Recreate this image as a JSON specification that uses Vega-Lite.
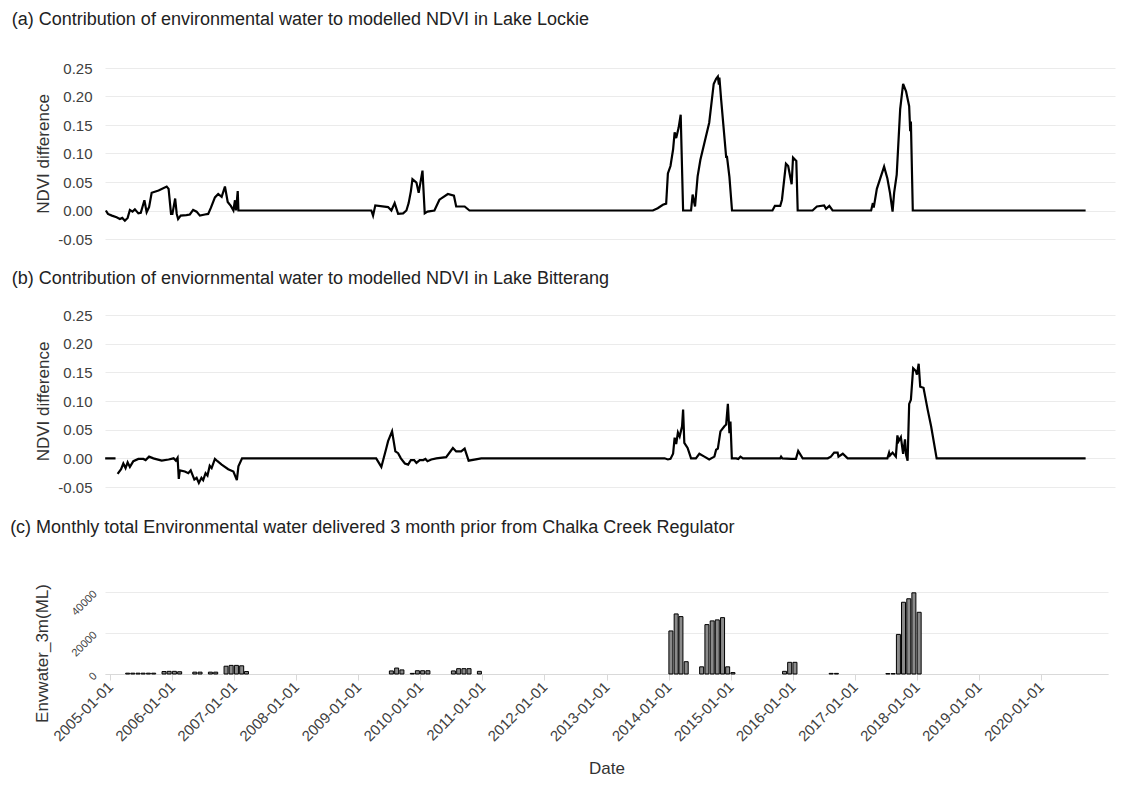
{
  "$schema": "https://vega.github.io/schema/vega-lite/v6.json",
  "background": "white",
  "padding": {"left": 10, "top": 11, "right": 5, "bottom": 5},
  "config": {
    "font": "Liberation Sans",
    "view": {"stroke": null},
    "title": {"anchor": "start", "frame": "bounds", "fontSize": 18, "fontWeight": "normal", "color": "#222222", "dx": -23, "baseline": "alphabetic"},
    "axis": {"labelColor": "#404040", "titleColor": "#333333", "titleFontWeight": "normal", "gridColor": "#ebebeb", "domain": false, "ticks": false, "labelFont": "Liberation Sans", "titleFont": "Liberation Sans"}
  },
  "spacing": 23,
  "datasets": {
    "lockie": [
      {"date": "2005-01-06", "ndvi": 0.000},
      {"date": "2005-01-18", "ndvi": -0.006},
      {"date": "2005-02-10", "ndvi": -0.009},
      {"date": "2005-03-09", "ndvi": -0.012},
      {"date": "2005-03-28", "ndvi": -0.015},
      {"date": "2005-04-11", "ndvi": -0.013},
      {"date": "2005-04-26", "ndvi": -0.018},
      {"date": "2005-05-12", "ndvi": -0.013},
      {"date": "2005-05-25", "ndvi": 0.001},
      {"date": "2005-06-09", "ndvi": -0.002},
      {"date": "2005-06-23", "ndvi": 0.002},
      {"date": "2005-07-13", "ndvi": -0.005},
      {"date": "2005-07-27", "ndvi": -0.004},
      {"date": "2005-08-17", "ndvi": 0.018},
      {"date": "2005-08-30", "ndvi": -0.003},
      {"date": "2005-09-13", "ndvi": 0.006},
      {"date": "2005-09-28", "ndvi": 0.031},
      {"date": "2005-11-07", "ndvi": 0.035},
      {"date": "2005-12-24", "ndvi": 0.042},
      {"date": "2006-01-04", "ndvi": 0.038},
      {"date": "2006-01-18", "ndvi": -0.006},
      {"date": "2006-01-26", "ndvi": -0.006},
      {"date": "2006-02-11", "ndvi": 0.021},
      {"date": "2006-02-20", "ndvi": -0.006},
      {"date": "2006-02-28", "ndvi": -0.015},
      {"date": "2006-03-15", "ndvi": -0.009},
      {"date": "2006-04-17", "ndvi": -0.008},
      {"date": "2006-05-07", "ndvi": -0.007},
      {"date": "2006-05-26", "ndvi": 0.001},
      {"date": "2006-06-15", "ndvi": -0.002},
      {"date": "2006-07-04", "ndvi": -0.009},
      {"date": "2006-08-02", "ndvi": -0.007},
      {"date": "2006-08-21", "ndvi": -0.006},
      {"date": "2006-09-06", "ndvi": 0.005},
      {"date": "2006-09-29", "ndvi": 0.023},
      {"date": "2006-10-18", "ndvi": 0.029},
      {"date": "2006-11-07", "ndvi": 0.024},
      {"date": "2006-11-26", "ndvi": 0.042},
      {"date": "2006-12-12", "ndvi": 0.015},
      {"date": "2006-12-30", "ndvi": 0.008},
      {"date": "2007-01-14", "ndvi": 0.000},
      {"date": "2007-01-23", "ndvi": 0.018},
      {"date": "2007-01-29", "ndvi": 0.000},
      {"date": "2007-02-08", "ndvi": 0.034},
      {"date": "2007-02-12", "ndvi": 0.000},
      {"date": "2009-03-22", "ndvi": 0.000},
      {"date": "2009-04-01", "ndvi": -0.009},
      {"date": "2009-04-14", "ndvi": 0.009},
      {"date": "2009-06-27", "ndvi": 0.006},
      {"date": "2009-07-16", "ndvi": 0.000},
      {"date": "2009-08-04", "ndvi": 0.013},
      {"date": "2009-08-24", "ndvi": -0.006},
      {"date": "2009-09-22", "ndvi": -0.005},
      {"date": "2009-10-11", "ndvi": 0.000},
      {"date": "2009-10-24", "ndvi": 0.013},
      {"date": "2009-11-06", "ndvi": 0.034},
      {"date": "2009-11-15", "ndvi": 0.055},
      {"date": "2009-12-08", "ndvi": 0.049},
      {"date": "2009-12-21", "ndvi": 0.031},
      {"date": "2010-01-12", "ndvi": 0.070},
      {"date": "2010-01-25", "ndvi": -0.005},
      {"date": "2010-02-10", "ndvi": -0.002},
      {"date": "2010-03-22", "ndvi": 0.000},
      {"date": "2010-04-20", "ndvi": 0.019},
      {"date": "2010-06-08", "ndvi": 0.029},
      {"date": "2010-07-13", "ndvi": 0.026},
      {"date": "2010-07-26", "ndvi": 0.007},
      {"date": "2010-09-13", "ndvi": 0.007},
      {"date": "2010-10-11", "ndvi": 0.000},
      {"date": "2013-09-06", "ndvi": 0.000},
      {"date": "2013-10-04", "ndvi": 0.004},
      {"date": "2013-11-03", "ndvi": 0.010},
      {"date": "2013-11-22", "ndvi": 0.012},
      {"date": "2013-12-02", "ndvi": 0.065},
      {"date": "2013-12-17", "ndvi": 0.078},
      {"date": "2014-01-01", "ndvi": 0.107},
      {"date": "2014-01-10", "ndvi": 0.137},
      {"date": "2014-01-19", "ndvi": 0.127},
      {"date": "2014-02-02", "ndvi": 0.145},
      {"date": "2014-02-14", "ndvi": 0.168},
      {"date": "2014-02-28", "ndvi": 0.000},
      {"date": "2014-04-15", "ndvi": 0.000},
      {"date": "2014-04-24", "ndvi": 0.028},
      {"date": "2014-05-08", "ndvi": 0.007},
      {"date": "2014-05-23", "ndvi": 0.060},
      {"date": "2014-06-08", "ndvi": 0.089},
      {"date": "2014-07-29", "ndvi": 0.154},
      {"date": "2014-08-24", "ndvi": 0.222},
      {"date": "2014-09-07", "ndvi": 0.231},
      {"date": "2014-09-17", "ndvi": 0.235},
      {"date": "2014-09-23", "ndvi": 0.221},
      {"date": "2014-09-26", "ndvi": 0.233},
      {"date": "2014-10-06", "ndvi": 0.195},
      {"date": "2014-11-04", "ndvi": 0.094},
      {"date": "2014-11-09", "ndvi": 0.094},
      {"date": "2014-11-23", "ndvi": 0.059},
      {"date": "2014-12-08", "ndvi": 0.000},
      {"date": "2015-07-30", "ndvi": 0.000},
      {"date": "2015-08-13", "ndvi": 0.008},
      {"date": "2015-09-13", "ndvi": 0.008},
      {"date": "2015-09-23", "ndvi": 0.019},
      {"date": "2015-10-16", "ndvi": 0.082},
      {"date": "2015-10-29", "ndvi": 0.078},
      {"date": "2015-11-18", "ndvi": 0.046},
      {"date": "2015-11-26", "ndvi": 0.093},
      {"date": "2015-12-15", "ndvi": 0.087},
      {"date": "2015-12-23", "ndvi": 0.000},
      {"date": "2016-03-18", "ndvi": 0.000},
      {"date": "2016-04-12", "ndvi": 0.007},
      {"date": "2016-05-24", "ndvi": 0.009},
      {"date": "2016-06-04", "ndvi": 0.003},
      {"date": "2016-06-23", "ndvi": 0.008},
      {"date": "2016-07-12", "ndvi": 0.000},
      {"date": "2017-02-20", "ndvi": 0.000},
      {"date": "2017-03-02", "ndvi": 0.013},
      {"date": "2017-03-07", "ndvi": 0.005},
      {"date": "2017-03-25", "ndvi": 0.038},
      {"date": "2017-05-06", "ndvi": 0.077},
      {"date": "2017-05-25", "ndvi": 0.056},
      {"date": "2017-06-09", "ndvi": 0.031},
      {"date": "2017-06-24", "ndvi": -0.002},
      {"date": "2017-07-03", "ndvi": 0.031},
      {"date": "2017-07-18", "ndvi": 0.063},
      {"date": "2017-08-07", "ndvi": 0.178},
      {"date": "2017-08-24", "ndvi": 0.222},
      {"date": "2017-09-10", "ndvi": 0.209},
      {"date": "2017-09-28", "ndvi": 0.183},
      {"date": "2017-10-04", "ndvi": 0.139},
      {"date": "2017-10-08", "ndvi": 0.156},
      {"date": "2017-10-19", "ndvi": 0.000},
      {"date": "2020-07-15", "ndvi": 0.000}
    ],
    "bitterang": [
      {"date": "2005-01-02", "ndvi": 0.000},
      {"date": "2005-03-03", "ndvi": 0.000},
      {"date": "2005-03-09", "ndvi": null},
      {"date": "2005-03-15", "ndvi": -0.027},
      {"date": "2005-04-04", "ndvi": -0.019},
      {"date": "2005-04-17", "ndvi": -0.009},
      {"date": "2005-04-30", "ndvi": -0.017},
      {"date": "2005-05-12", "ndvi": -0.007},
      {"date": "2005-05-25", "ndvi": -0.015},
      {"date": "2005-06-14", "ndvi": -0.005},
      {"date": "2005-07-13", "ndvi": -0.001},
      {"date": "2005-08-11", "ndvi": -0.001},
      {"date": "2005-08-24", "ndvi": -0.003},
      {"date": "2005-09-13", "ndvi": 0.003},
      {"date": "2005-10-08", "ndvi": 0.000},
      {"date": "2005-11-25", "ndvi": -0.004},
      {"date": "2006-01-04", "ndvi": -0.002},
      {"date": "2006-02-02", "ndvi": 0.000},
      {"date": "2006-02-15", "ndvi": -0.004},
      {"date": "2006-02-25", "ndvi": 0.001},
      {"date": "2006-03-04", "ndvi": -0.036},
      {"date": "2006-03-10", "ndvi": -0.021},
      {"date": "2006-04-08", "ndvi": -0.023},
      {"date": "2006-04-28", "ndvi": -0.026},
      {"date": "2006-05-12", "ndvi": -0.021},
      {"date": "2006-06-02", "ndvi": -0.037},
      {"date": "2006-06-15", "ndvi": -0.034},
      {"date": "2006-06-28", "ndvi": -0.043},
      {"date": "2006-07-13", "ndvi": -0.034},
      {"date": "2006-07-23", "ndvi": -0.038},
      {"date": "2006-08-06", "ndvi": -0.026},
      {"date": "2006-08-17", "ndvi": -0.030},
      {"date": "2006-08-30", "ndvi": -0.013},
      {"date": "2006-09-10", "ndvi": -0.017},
      {"date": "2006-09-29", "ndvi": -0.001},
      {"date": "2006-10-14", "ndvi": -0.005},
      {"date": "2006-11-07", "ndvi": -0.011},
      {"date": "2006-12-15", "ndvi": -0.019},
      {"date": "2007-01-14", "ndvi": -0.023},
      {"date": "2007-02-03", "ndvi": -0.038},
      {"date": "2007-02-12", "ndvi": -0.014},
      {"date": "2007-03-05", "ndvi": 0.000},
      {"date": "2009-04-19", "ndvi": 0.000},
      {"date": "2009-05-19", "ndvi": -0.015},
      {"date": "2009-06-17", "ndvi": 0.018},
      {"date": "2009-06-27", "ndvi": 0.030},
      {"date": "2009-07-20", "ndvi": 0.047},
      {"date": "2009-08-08", "ndvi": 0.012},
      {"date": "2009-08-24", "ndvi": 0.009},
      {"date": "2009-09-09", "ndvi": 0.000},
      {"date": "2009-10-02", "ndvi": -0.009},
      {"date": "2009-10-21", "ndvi": -0.011},
      {"date": "2009-11-06", "ndvi": -0.003},
      {"date": "2009-11-25", "ndvi": -0.003},
      {"date": "2009-12-08", "ndvi": -0.008},
      {"date": "2009-12-27", "ndvi": -0.003},
      {"date": "2010-01-17", "ndvi": -0.003},
      {"date": "2010-01-29", "ndvi": -0.001},
      {"date": "2010-02-10", "ndvi": -0.005},
      {"date": "2010-03-04", "ndvi": -0.002},
      {"date": "2010-04-02", "ndvi": 0.000},
      {"date": "2010-05-29", "ndvi": 0.002},
      {"date": "2010-07-07", "ndvi": 0.018},
      {"date": "2010-07-26", "ndvi": 0.012},
      {"date": "2010-08-24", "ndvi": 0.012},
      {"date": "2010-09-13", "ndvi": 0.017},
      {"date": "2010-10-06", "ndvi": -0.004},
      {"date": "2010-12-18", "ndvi": 0.000},
      {"date": "2013-11-13", "ndvi": 0.000},
      {"date": "2013-12-02", "ndvi": -0.002},
      {"date": "2013-12-17", "ndvi": -0.001},
      {"date": "2014-01-01", "ndvi": 0.008},
      {"date": "2014-01-10", "ndvi": 0.036},
      {"date": "2014-01-19", "ndvi": 0.025},
      {"date": "2014-01-29", "ndvi": 0.045},
      {"date": "2014-02-08", "ndvi": 0.038},
      {"date": "2014-02-22", "ndvi": 0.056},
      {"date": "2014-02-28", "ndvi": 0.085},
      {"date": "2014-03-07", "ndvi": 0.027},
      {"date": "2014-03-26", "ndvi": 0.018},
      {"date": "2014-04-15", "ndvi": 0.000},
      {"date": "2014-05-13", "ndvi": 0.000},
      {"date": "2014-06-02", "ndvi": 0.008},
      {"date": "2014-07-01", "ndvi": 0.003},
      {"date": "2014-07-29", "ndvi": -0.002},
      {"date": "2014-08-28", "ndvi": 0.003},
      {"date": "2014-09-07", "ndvi": 0.015},
      {"date": "2014-09-17", "ndvi": 0.017},
      {"date": "2014-10-02", "ndvi": 0.047},
      {"date": "2014-10-25", "ndvi": 0.056},
      {"date": "2014-11-04", "ndvi": 0.059},
      {"date": "2014-11-14", "ndvi": 0.095},
      {"date": "2014-11-23", "ndvi": 0.044},
      {"date": "2014-11-29", "ndvi": 0.064},
      {"date": "2014-12-07", "ndvi": 0.000},
      {"date": "2015-01-01", "ndvi": 0.000},
      {"date": "2015-01-13", "ndvi": -0.001},
      {"date": "2015-01-26", "ndvi": 0.003},
      {"date": "2015-02-09", "ndvi": 0.000},
      {"date": "2015-09-13", "ndvi": 0.000},
      {"date": "2015-09-18", "ndvi": 0.003},
      {"date": "2015-09-25", "ndvi": 0.000},
      {"date": "2015-11-18", "ndvi": -0.001},
      {"date": "2015-12-13", "ndvi": -0.001},
      {"date": "2015-12-26", "ndvi": 0.013},
      {"date": "2016-01-21", "ndvi": 0.000},
      {"date": "2016-06-14", "ndvi": 0.000},
      {"date": "2016-07-02", "ndvi": 0.003},
      {"date": "2016-07-21", "ndvi": 0.010},
      {"date": "2016-08-10", "ndvi": 0.010},
      {"date": "2016-08-15", "ndvi": 0.003},
      {"date": "2016-09-09", "ndvi": 0.008},
      {"date": "2016-10-07", "ndvi": 0.000},
      {"date": "2017-05-25", "ndvi": 0.000},
      {"date": "2017-06-04", "ndvi": 0.010},
      {"date": "2017-06-09", "ndvi": 0.005},
      {"date": "2017-06-24", "ndvi": 0.010},
      {"date": "2017-07-13", "ndvi": 0.003},
      {"date": "2017-07-22", "ndvi": 0.040},
      {"date": "2017-07-29", "ndvi": 0.030},
      {"date": "2017-08-11", "ndvi": 0.037},
      {"date": "2017-08-24", "ndvi": 0.008},
      {"date": "2017-09-04", "ndvi": 0.033},
      {"date": "2017-09-10", "ndvi": 0.006},
      {"date": "2017-09-19", "ndvi": -0.004},
      {"date": "2017-09-28", "ndvi": 0.095},
      {"date": "2017-10-08", "ndvi": 0.102},
      {"date": "2017-10-21", "ndvi": 0.157},
      {"date": "2017-11-06", "ndvi": 0.152},
      {"date": "2017-11-12", "ndvi": 0.146},
      {"date": "2017-11-22", "ndvi": 0.165},
      {"date": "2017-12-01", "ndvi": 0.125},
      {"date": "2017-12-20", "ndvi": 0.123},
      {"date": "2018-01-13", "ndvi": 0.085},
      {"date": "2018-02-02", "ndvi": 0.056},
      {"date": "2018-03-06", "ndvi": 0.000},
      {"date": "2020-07-15", "ndvi": 0.000}
    ],
    "water": [
      {"month": "2005-04-15", "ml": 400},
      {"month": "2005-05-15", "ml": 400},
      {"month": "2005-06-15", "ml": 400},
      {"month": "2005-07-15", "ml": 400},
      {"month": "2005-08-15", "ml": 400},
      {"month": "2005-09-15", "ml": 400},
      {"month": "2005-11-15", "ml": 1200},
      {"month": "2005-12-15", "ml": 1300},
      {"month": "2006-01-15", "ml": 1300},
      {"month": "2006-02-15", "ml": 1100},
      {"month": "2006-05-15", "ml": 900},
      {"month": "2006-06-15", "ml": 900},
      {"month": "2006-08-15", "ml": 900},
      {"month": "2006-09-15", "ml": 900},
      {"month": "2006-11-15", "ml": 3800},
      {"month": "2006-12-15", "ml": 4200},
      {"month": "2007-01-15", "ml": 4200},
      {"month": "2007-02-15", "ml": 4000},
      {"month": "2007-03-15", "ml": 1200},
      {"month": "2009-07-15", "ml": 1500},
      {"month": "2009-08-15", "ml": 2900},
      {"month": "2009-09-15", "ml": 2000},
      {"month": "2009-11-15", "ml": 300},
      {"month": "2009-12-15", "ml": 1600},
      {"month": "2010-01-15", "ml": 1600},
      {"month": "2010-02-15", "ml": 1600},
      {"month": "2010-07-15", "ml": 1500},
      {"month": "2010-08-15", "ml": 2600},
      {"month": "2010-09-15", "ml": 2600},
      {"month": "2010-10-15", "ml": 2600},
      {"month": "2010-12-15", "ml": 1300},
      {"month": "2014-01-15", "ml": 21000},
      {"month": "2014-02-15", "ml": 29300},
      {"month": "2014-03-15", "ml": 28000},
      {"month": "2014-04-15", "ml": 6000},
      {"month": "2014-07-15", "ml": 3500},
      {"month": "2014-08-15", "ml": 24100},
      {"month": "2014-09-15", "ml": 25900},
      {"month": "2014-10-15", "ml": 26400},
      {"month": "2014-11-15", "ml": 27500},
      {"month": "2014-12-15", "ml": 3500},
      {"month": "2015-01-15", "ml": 700},
      {"month": "2015-11-15", "ml": 1300},
      {"month": "2015-12-15", "ml": 5700},
      {"month": "2016-01-15", "ml": 5700},
      {"month": "2016-08-15", "ml": 300},
      {"month": "2016-09-15", "ml": 300},
      {"month": "2017-07-15", "ml": 200},
      {"month": "2017-08-15", "ml": 200},
      {"month": "2017-09-15", "ml": 19300},
      {"month": "2017-10-15", "ml": 35000},
      {"month": "2017-11-15", "ml": 36700},
      {"month": "2017-12-15", "ml": 39600},
      {"month": "2018-01-15", "ml": 30100}
    ]
  },
  "vconcat": [
    {
      "title": {"text": "(a) Contribution of environmental water to modelled NDVI in Lake Lockie", "offset": 32},
      "width": 1010,
      "height": 171,
      "data": {"name": "lockie"},
      "mark": {"type": "line", "color": "black", "strokeWidth": 2.2},
      "encoding": {
        "x": {"field": "date", "type": "temporal", "scale": {"type": "utc", "domain": [{"year": 2005, "month": 1, "date": 1, "utc": true}, {"year": 2021, "month": 1, "date": 1, "utc": true}]}, "axis": null},
        "y": {"field": "ndvi", "type": "quantitative", "scale": {"domain": [-0.05, 0.25], "nice": false, "zero": false},
          "axis": {"title": "NDVI difference", "values": [-0.05, 0, 0.05, 0.1, 0.15, 0.2, 0.25], "labelExpr": "replace(format(datum.value, '.2f'), '\u2212', '-')", "labelFontSize": 15, "titleFontSize": 17, "labelPadding": 13, "tickSize": 0, "titlePadding": 5, "grid": true}}
      }
    },
    {
      "title": {"text": "(b) Contribution of enviornmental water to modelled NDVI in Lake Bitterang", "offset": 20},
      "width": 1010,
      "height": 172,
      "data": {"name": "bitterang"},
      "mark": {"type": "line", "color": "black", "strokeWidth": 2.2, "invalid": "break-paths-filter-domains"},
      "encoding": {
        "x": {"field": "date", "type": "temporal", "scale": {"type": "utc", "domain": [{"year": 2005, "month": 1, "date": 1, "utc": true}, {"year": 2021, "month": 1, "date": 1, "utc": true}]}, "axis": null},
        "y": {"field": "ndvi", "type": "quantitative", "scale": {"domain": [-0.05, 0.25], "nice": false, "zero": false},
          "axis": {"title": "NDVI difference", "values": [-0.05, 0, 0.05, 0.1, 0.15, 0.2, 0.25], "labelExpr": "replace(format(datum.value, '.2f'), '\u2212', '-')", "labelFontSize": 15, "titleFontSize": 17, "labelPadding": 13, "tickSize": 0, "titlePadding": 5, "grid": true}}
      }
    },
    {
      "title": {"text": "(c) Monthly total Environmental water delivered 3 month prior from Chalka Creek Regulator", "offset": 47},
      "width": 1003,
      "height": 82,
      "data": {"name": "water"},
      "mark": {"type": "bar", "fill": "#8a8a8a", "stroke": "black", "strokeWidth": 1, "width": 4},
      "encoding": {
        "x": {"field": "month", "type": "temporal", "scale": {"type": "utc", "domain": [{"year": 2005, "month": 1, "date": 1, "utc": true}, {"year": 2021, "month": 1, "date": 1, "utc": true}]},
          "axis": {"title": "Date", "values": [
            {"year": 2005, "month": 1, "date": 1, "utc": true},
            {"year": 2006, "month": 1, "date": 1, "utc": true},
            {"year": 2007, "month": 1, "date": 1, "utc": true},
            {"year": 2008, "month": 1, "date": 1, "utc": true},
            {"year": 2009, "month": 1, "date": 1, "utc": true},
            {"year": 2010, "month": 1, "date": 1, "utc": true},
            {"year": 2011, "month": 1, "date": 1, "utc": true},
            {"year": 2012, "month": 1, "date": 1, "utc": true},
            {"year": 2013, "month": 1, "date": 1, "utc": true},
            {"year": 2014, "month": 1, "date": 1, "utc": true},
            {"year": 2015, "month": 1, "date": 1, "utc": true},
            {"year": 2016, "month": 1, "date": 1, "utc": true},
            {"year": 2017, "month": 1, "date": 1, "utc": true},
            {"year": 2018, "month": 1, "date": 1, "utc": true},
            {"year": 2019, "month": 1, "date": 1, "utc": true},
            {"year": 2020, "month": 1, "date": 1, "utc": true}
          ], "format": "%Y-%m-%d", "labelAngle": -45, "labelAlign": "right", "labelBaseline": "middle", "labelPadding": 4, "labelOverlap": false, "labelFontSize": 15, "titleFontSize": 17, "domain": true, "domainColor": "#d9d9d9", "ticks": true, "tickColor": "#d9d9d9", "tickSize": 6, "grid": false, "titlePadding": 17}},
        "y": {"field": "ml", "type": "quantitative", "scale": {"domain": [0, 40000], "nice": false},
          "axis": {"title": "Envwater_3m(ML)", "titleY": 61, "values": [0, 20000, 40000], "format": "d", "labelAngle": -45, "labelFontSize": 11, "titleFontSize": 17, "grid": true, "labelPadding": 10, "tickSize": 0, "titlePadding": 18}}
      }
    }
  ]
}
